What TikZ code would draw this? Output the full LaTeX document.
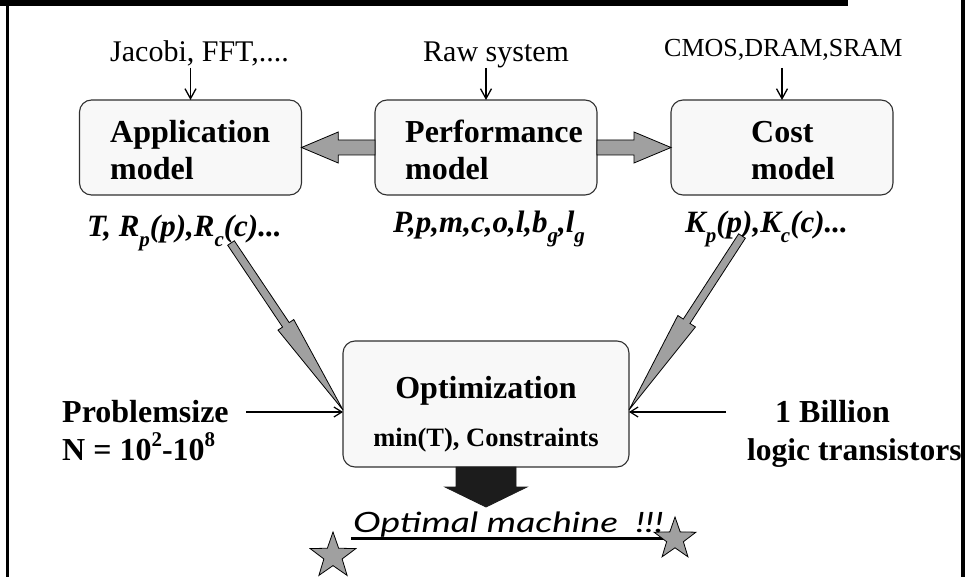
\documentclass[tikz,border=0pt]{standalone}
\usepackage{fontspec}
\usepackage{graphicx}
\setmainfont{Liberation Serif}
\newfontfamily\omfont{Lato}
\usetikzlibrary{arrows.meta,calc,shapes.geometric}

% lowered / raised indices in running text
\newcommand\lowidx[1]{\raisebox{-0.30em}{\fontsize{21}{21}\selectfont #1}}
\newcommand\highidx[1]{\raisebox{0.42em}{\fontsize{21}{21}\selectfont #1}}

% block arrow from #1 to #2: head starts at fraction #3, shaft half width #4,
% head half width #5, drawn with style #6
\newcommand\fatarrow[6]{%
  \coordinate (fa-base) at ($(#1)!#3!(#2)$);
  \draw[#6] ($(#1)!#4!90:(#2)$) -- ($(fa-base)!#4!90:(#2)$)
    -- ($(fa-base)!#5!90:(#2)$) -- (#2) -- ($(fa-base)!#5!-90:(#2)$)
    -- ($(fa-base)!#4!-90:(#2)$) -- ($(#1)!#4!-90:(#2)$) -- cycle;}

\definecolor{boxfill}{HTML}{F8F8F8}
\definecolor{boxline}{HTML}{303030}
\definecolor{arrgray}{HTML}{A0A0A0}
\definecolor{arrdark}{HTML}{1C1C1C}

\begin{document}
\begin{tikzpicture}[x=1pt,y=-1pt,
  modelbox/.style={draw=boxline, fill=boxfill, line width=1.1pt, rounded corners=12pt,
    minimum width=222pt, minimum height=95pt, inner sep=0pt, outer sep=0pt},
  boxtext/.style={inner sep=0pt, anchor=base west, font=\fontsize{32}{36}\selectfont\bfseries},
  intext/.style={inner sep=0pt, anchor=base west, font=\fontsize{30}{36}\selectfont},
  outtext/.style={inner sep=0pt, anchor=base west, font=\fontsize{31}{36}\selectfont\bfseries\itshape},
  sidetext/.style={inner sep=0pt, anchor=base west, font=\fontsize{32}{36}\selectfont\bfseries},
  feed/.style={draw=black, line width=1.3pt, -{Straight Barb[length=10pt,width=11pt]}},
  sidefeed/.style={draw=black, line width=1.2pt, -{Straight Barb[length=8pt,width=10pt]}},
  grayarrow/.style={draw=black, line width=0.8pt, fill=arrgray},
  darkarrow/.style={draw=arrdark, line width=0.8pt, fill=arrdark},
  starmark/.style={star, star points=5, star point ratio=2.5, draw=black, line width=0.8pt,
    fill=arrgray, inner sep=0pt, outer sep=0pt}]
\useasboundingbox (0,0) rectangle (966,577);

% model boxes
\node[modelbox] (app)  at (190.5,147.5) {};
\node[modelbox] (perf) at (486,147.5) {};
\node[modelbox] (cost) at (782,147.5) {};
\node[modelbox, minimum width=286pt, minimum height=126pt] (opt) at (486,404) {};

% box titles
\node[boxtext] (appt1)  at (110,143) {Application};
\node[boxtext] (appt2)  at (110,180) {model};
\node[boxtext] (perft1) at (405,143) {Performance};
\node[boxtext] (perft2) at (405,180) {model};
\node[boxtext] (costt1) at (751,143) {Cost};
\node[boxtext] (costt2) at (751,180) {model};
\node[boxtext, anchor=base] (optt1) at (486,398) {Optimization};
\node[boxtext, anchor=base, font=\fontsize{26.5}{30}\selectfont\bfseries] (optt2) at (486,446) {min(T), Constraints};

% inputs on top
\node[intext] (jac) at (110,62) {Jacobi, FFT,....};
\node[intext] (raw) at (423,62) {Raw system};
\node[intext, font=\fontsize{26}{30}\selectfont] (cmos) at (664,57) {CMOS,DRAM,SRAM};
\coordinate (appin)  at (190.5,68);
\coordinate (perfin) at (486,68);
\coordinate (costin) at (782,68);
\draw[feed] (appin) -- (app.north);
\draw[feed] (perfin) -- (perf.north);
\draw[feed] (costin) -- (cost.north);

% model parameters
\node[outtext] (appl)  at (87,237) {T, R\lowidx{p}(p),R\lowidx{c}(c)...};
\node[outtext] (perfl) at (393,233) {P,p,m,c,o,l,b\lowidx{g},l\lowidx{g}};
\node[outtext] (costl) at (685,233) {K\lowidx{p}(p),K\lowidx{c}(c)...};

% block arrows between the models
\fatarrow{perf.west}{app.east}{0.5}{7.5pt}{15.5pt}{grayarrow}
\fatarrow{perf.east}{cost.west}{0.5}{7.5pt}{15.5pt}{grayarrow}

% long arrows into the optimization
\coordinate (appout)  at (231,243);
\coordinate (costout) at (742,236);
\coordinate (optl) at ($(opt.west)+(0,6)$);
\coordinate (optr) at ($(opt.east)+(0,6)$);
\fatarrow{appout}{optl}{0.49}{4pt}{9.5pt}{grayarrow}
\fatarrow{costout}{optr}{0.49}{4pt}{10.5pt}{grayarrow}

% side inputs
\node[sidetext] (psz1) at (62,422) {Problemsize};
\node[sidetext] (psz2) at (62,460) {N = 10\highidx{2}-10\highidx{8}};
\node[sidetext] (bil1) at (775,422) {1 Billion};
\node[sidetext, font=\fontsize{31.5}{36}\selectfont\bfseries] (bil2) at (747,460) {logic transistors};
\coordinate (pszout) at (246,412);
\coordinate (bilout) at (726,412);
\draw[sidefeed] (pszout) -- ($(opt.west)+(0,8)$);
\draw[sidefeed] (bilout) -- ($(opt.east)+(0,8)$);

% result
\coordinate (resulttip) at ($(opt.south)+(0,40)$);
\fatarrow{opt.south}{resulttip}{0.5}{30pt}{41pt}{darkarrow}
\node[inner sep=0pt, anchor=base west, font=\fontsize{28}{32}\selectfont\omfont\itshape] (om) at (353,532) {\scalebox{1.33}[1]{Optimal machine\ \ !!!}};
\draw[line width=3pt] ($(om.base west)+(-2,6)$) -- ($(om.base east)+(0,6)$);
\node[starmark, minimum size=48pt] (star1) at (333,556) {};
\node[starmark, minimum size=44pt] (star2) at (675,539) {};

% slide frame
\fill[black] (0,0) rectangle (848,6);
\draw[line width=3pt] (7,0) -- (7,577);
\draw[line width=3.5pt] (963,0) -- (963,577);
\end{tikzpicture}
\end{document}
